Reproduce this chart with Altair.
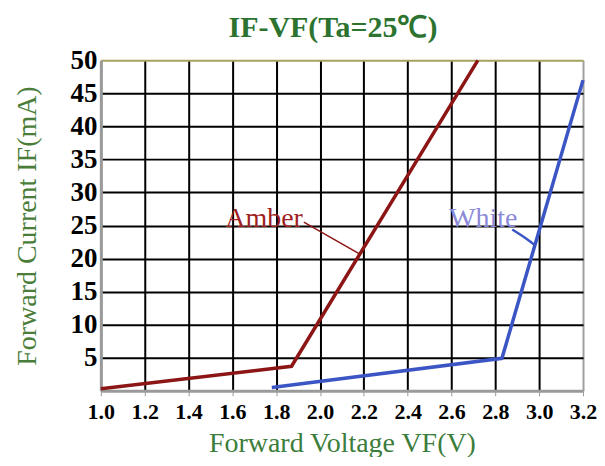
import altair as alt
import pandas as pd

# Data
amber_v = [1.0, 1.87, 2.72]
amber_i = [0.3, 3.7, 50.0]
white_v = [1.78, 2.83, 3.2]
white_i = [0.5, 4.9, 47.0]

x_ticks = [1.0, 1.2, 1.4, 1.6, 1.8, 2.0, 2.2, 2.4, 2.6, 2.8, 3.0, 3.2]
y_ticks = [5, 10, 15, 20, 25, 30, 35, 40, 45, 50]

amber_label = {"text": "Amber", "v": 1.745, "i": 26.0}
white_label = {"text": "White", "v": 2.745, "i": 26.0}
amber_leader_v = [1.926, 2.18]
amber_leader_i = [25.5, 20.7]
white_leader_v = [2.877, 2.954, 2.977]
white_leader_i = [24.4, 22.7, 22.1]

AMBER = "#8c1515"
BLUE = "#3b55c4"

amber_df = pd.DataFrame({"v": amber_v, "i": amber_i})
white_df = pd.DataFrame({"v": white_v, "i": white_i})
al_df = pd.DataFrame({"v": amber_leader_v, "i": amber_leader_i})
wl_df = pd.DataFrame({"v": white_leader_v, "i": white_leader_i, "o": list(range(len(white_leader_v)))})
lab_df = pd.DataFrame([amber_label, white_label])

xscale = alt.Scale(domain=[1.0, 3.2], nice=False, zero=False)
yscale = alt.Scale(domain=[0, 50], nice=False, zero=False)

xaxis = alt.Axis(
    values=x_ticks, format=".1f", title="Forward Voltage VF(V)",
    labelFont="Liberation Serif", labelFontWeight="bold", labelFontSize=22,
    labelColor="black", labelPadding=6, tickSize=5, tickColor="#999999",
    domainColor="#9a9a9a", domainWidth=3, labelOverlap=False,
    grid=True, gridWidth=2,
    gridColor={"condition": {"test": "datum.value <= 1.001 || datum.value >= 3.19", "value": "#a0a0a0"}, "value": "black"},
    titleFont="Liberation Serif", titleFontWeight="normal", titleFontSize=28,
    titleColor="#3b7d3b", titlePadding=7, labelFlush=False,
)
yaxis = alt.Axis(
    values=y_ticks, title="Forward Current IF(mA)", format="d",
    labelFont="Liberation Serif", labelFontWeight="bold", labelFontSize=27,
    labelColor="black", labelPadding=4, ticks=False, labelOverlap=False,
    labelSeparation=0, labelBound=False,
    domainColor="#9a9a9a", domainWidth=3,
    grid=True, gridWidth=2,
    gridColor={"condition": {"test": "datum.value >= 49.9", "value": "#a6a35c"}, "value": "black"},
    titleFont="Liberation Serif", titleFontWeight="normal", titleFontSize=28,
    titleColor="#4a7d3a", titlePadding=28, labelFlush=False,
)

amber = alt.Chart(amber_df).mark_line(color=AMBER, strokeWidth=3.5)
white = alt.Chart(white_df).mark_line(color=BLUE, strokeWidth=3.5)
aleader = alt.Chart(al_df).mark_line(color=AMBER, strokeWidth=1.5)
wleader = alt.Chart(wl_df).mark_line(color=BLUE, strokeWidth=2.5, interpolate="monotone").encode(order="o:Q")
labels = alt.Chart(lab_df).mark_text(font="Liberation Serif", fontSize=28, baseline="middle", align="center").encode(
    text="text:N",
    color=alt.Color("text:N", scale=alt.Scale(domain=["Amber", "White"], range=["#a01f1f", "#8c8ad8"]), legend=None),
)

chart = alt.layer(amber, white, aleader, wleader, labels).encode(
    x=alt.X("v:Q", scale=xscale, axis=xaxis),
    y=alt.Y("i:Q", scale=yscale, axis=yaxis),
).properties(
    width=483, height=331,
    title=alt.TitleParams("IF-VF(Ta=25℃)", font="Liberation Serif", fontSize=30, fontWeight="bold",
                          color="#2c7330", anchor="middle", offset=3, dx=-9),
    autosize=alt.AutoSizeParams(type="none"),
    padding={"left": 93, "top": 52, "right": 14, "bottom": 66},
).configure_view(stroke="#a0a0a0", strokeWidth=2).configure_axis(labelOverlap=False).configure(background="white")

chart.save("out.html", embed_options={"renderer": "svg", "actions": False})
